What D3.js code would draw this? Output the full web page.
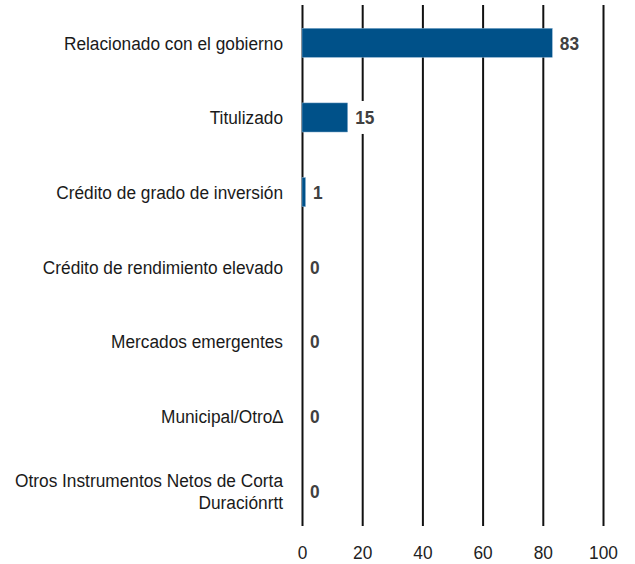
<!DOCTYPE html>
<html>
<head>
<meta charset="utf-8">
<script src="https://cdn.jsdelivr.net/npm/d3@7"></script>
<style>
  body { margin: 0; background: #fff; }
  text { font-family: "Liberation Sans", Arial, sans-serif; }
</style>
</head>
<body>
<div id="chart"></div>
<script>
var categories = [
  ["Relacionado con el gobierno"],
  ["Titulizado"],
  ["Crédito de grado de inversión"],
  ["Crédito de rendimiento elevado"],
  ["Mercados emergentes"],
  ["Municipal/Otro∆"],
  ["Otros Instrumentos Netos de Corta", "Duraciónrtt"]
];
var values = [83, 15, 1, 0, 0, 0, 0];
var xTicks = [0, 20, 40, 60, 80, 100];

var width = 635, height = 564;
var squeeze = "scale(0.91,1)";   // source font is a bit condensed

var svg = d3.select("#chart").append("svg")
  .attr("width", width)
  .attr("height", height);

var x = d3.scaleLinear().domain([0, 100]).range([302, 603]);

var y = d3.scaleBand()
  .domain(d3.range(categories.length))
  .range([5.5, 528])
  .paddingInner(0.61)
  .paddingOuter(0.305);

// gridlines + tick labels
var xAxis = d3.axisBottom(x)
  .tickValues(xTicks)
  .tickSize(-521)
  .tickPadding(20);

var ax = svg.append("g")
  .attr("transform", "translate(0,526)")
  .call(xAxis);
ax.select(".domain").remove();
ax.selectAll(".tick line").attr("stroke", "#111").attr("stroke-width", 2);
ax.selectAll(".tick text")
  .attr("transform", squeeze)
  .style("font-size", "19px")
  .attr("fill", "#222");

// bars (zero values get no bar)
svg.selectAll("rect.bar")
  .data(values.filter(function(d) { return d > 0; }))
  .enter().append("rect")
  .attr("class", "bar")
  .attr("x", x(0))
  .attr("y", function(d, i) { return y(i); })
  .attr("width", function(d) { return x(d) - x(0) + 0.5; })
  .attr("height", y.bandwidth())
  .attr("fill", "#005189")
  .attr("stroke", "#8fb5d4")
  .attr("stroke-width", 0.5);

// value labels with white box
var lab = svg.selectAll("g.val")
  .data(values)
  .enter().append("g")
  .attr("class", "val")
  .attr("transform", function(d, i) {
    return "translate(" + (x(d) + 8) + "," + (y(i) + y.bandwidth() / 2) + ")";
  });

lab.append("rect")
  .attr("x", -5)
  .attr("y", -16.5)
  .attr("width", function(d) { return String(d).length * 10 + 10; })
  .attr("height", 33)
  .attr("fill", function(d) { return d > 0 ? "#fff" : "none"; });

lab.append("text")
  .attr("transform", squeeze)
  .attr("dy", "0.36em")
  .style("font-size", "19px")
  .style("font-weight", "bold")
  .attr("fill", "#404040")
  .text(function(d) { return d; });

// category labels
var cat = svg.selectAll("g.cat")
  .data(categories)
  .enter().append("g")
  .attr("class", "cat")
  .attr("transform", function(d, i) {
    return "translate(283," + (y(i) + y.bandwidth() / 2) + ") " + squeeze;
  })
  .append("text")
  .attr("text-anchor", "end")
  .style("font-size", "19px")
  .attr("fill", "#1a1a1a");

cat.selectAll("tspan")
  .data(function(d) { return d; })
  .enter().append("tspan")
  .attr("x", 0)
  .attr("dy", function(t, j, nodes) {
    var n = nodes.length;
    return j === 0 ? (0.36 - (n - 1) * 0.58) + "em" : "1.16em";
  })
  .text(function(t) { return t; });
</script>
</body>
</html>
